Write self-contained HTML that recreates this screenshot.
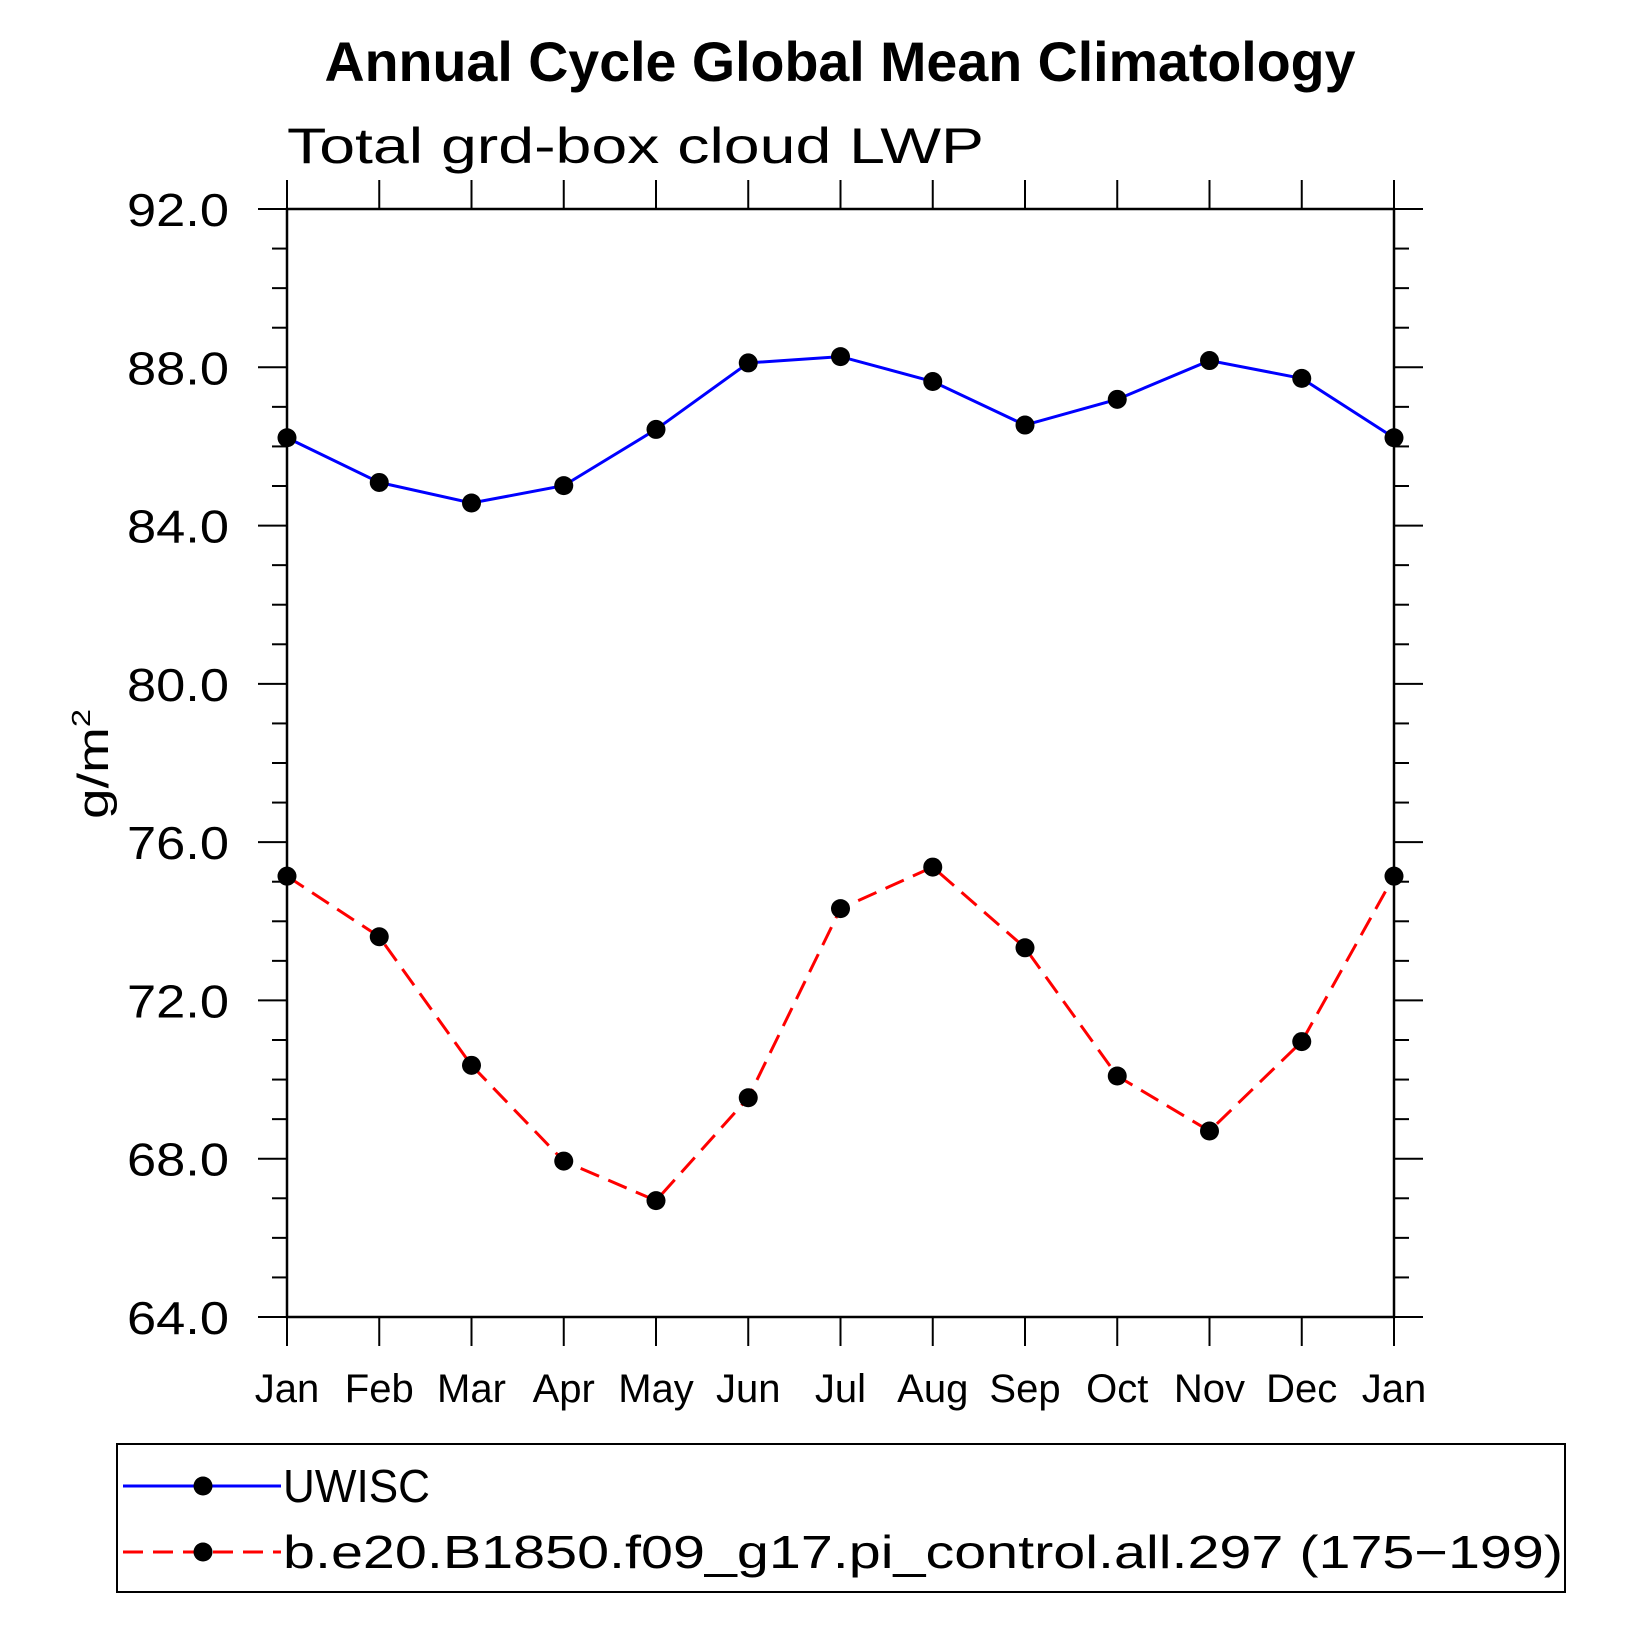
<!DOCTYPE html>
<html><head><meta charset="utf-8"><style>
html,body{margin:0;padding:0;background:#fff;}
svg{display:block;font-family:"Liberation Sans",sans-serif;}
</style></head><body>
<svg id="chart" width="1630" height="1630" viewBox="0 0 1630 1630" xmlns="http://www.w3.org/2000/svg">
<text x="840" y="81" text-anchor="middle" font-size="56" font-weight="bold" textLength="1031" lengthAdjust="spacingAndGlyphs">Annual Cycle Global Mean Climatology</text>
<text x="287" y="163" font-size="50" textLength="697" lengthAdjust="spacingAndGlyphs">Total grd-box cloud LWP</text>
<text transform="translate(108,764) rotate(-90)" text-anchor="middle" font-size="44" textLength="110" lengthAdjust="spacingAndGlyphs">g/m<tspan font-size="26" dy="-18">2</tspan></text>
<g id="axes"></g>
<g id="series"></g>
<g>
<rect x="117" y="1444" width="1448" height="148" fill="none" stroke="#000" stroke-width="2"/>
<g>
<line x1="123" y1="1486" x2="281" y2="1486" stroke="#0000ff" stroke-width="3"/>
<circle cx="203" cy="1486" r="9.5" fill="#000"/>
<text x="283" y="1502" font-size="46" textLength="147" lengthAdjust="spacingAndGlyphs">UWISC</text>
</g>
<g>
<line x1="123" y1="1552" x2="281" y2="1552" stroke="#ff0000" stroke-width="3" stroke-dasharray="20,10"/>
<circle cx="203" cy="1552" r="9.5" fill="#000"/>
<text x="283" y="1568" font-size="46" textLength="1280" lengthAdjust="spacingAndGlyphs">b.e20.B1850.f09_g17.pi_control.all.297 (175−199)</text>
</g>
</g>
</svg>
<script>
const months = ["Jan","Feb","Mar","Apr","May","Jun","Jul","Aug","Sep","Oct","Nov","Dec","Jan"];
const uwisc = [86.22,85.09,84.57,85.01,86.43,88.11,88.27,87.64,86.54,87.19,88.17,87.72,86.22];
const model = [75.14,73.61,70.36,67.94,66.94,69.54,74.32,75.37,73.33,70.09,68.70,70.96,75.14];
const yTicks = [64,68,72,76,80,84,88,92];
const yTickLabels = ["64.0","68.0","72.0","76.0","80.0","84.0","88.0","92.0"];

const NS="http://www.w3.org/2000/svg";
const L=287,R=1394,T=209,B=1317,Y0=64,Y1=92;
function xs(i){return L+(R-L)*i/(months.length-1);}
function ys(v){return B-(v-Y0)/(Y1-Y0)*(B-T);}
function mk(tag,attrs,parent){const e=document.createElementNS(NS,tag);for(const k in attrs)e.setAttribute(k,attrs[k]);parent.appendChild(e);return e;}
const ax=document.getElementById('axes');
const frame=mk('rect',{x:L,y:T,width:R-L,height:B-T,fill:'none',stroke:'#000','stroke-width':2.5},ax);


for(let v=Y0;v<=Y1;v+=1){
  const y=ys(v);const major=(v-Y0)%4===0;const len=major?29:15;
  const t1=mk('line',{x1:L-len,y1:y,x2:L,y2:y,stroke:'#000','stroke-width':2},ax);
  
  
  const t2=mk('line',{x1:R,y1:y,x2:R+len,y2:y,stroke:'#000','stroke-width':2},ax);
  
  
}
yTicks.forEach((v,i)=>{
  const t=mk('text',{x:229,y:ys(v)+17,'text-anchor':'end','font-size':46,textLength:102,lengthAdjust:'spacingAndGlyphs'},ax);
  t.textContent=yTickLabels[i];
  
  
});
months.forEach((m,i)=>{
  const x=xs(i);
  const a=mk('line',{x1:x,y1:B,x2:x,y2:B+29,stroke:'#000','stroke-width':2},ax);
  
  
  const b=mk('line',{x1:x,y1:T-29,x2:x,y2:T,stroke:'#000','stroke-width':2},ax);
  
  
  const t=mk('text',{x:x,y:1402,'text-anchor':'middle','font-size':40},ax);
  t.textContent=m;
  
  
});
const sg=document.getElementById('series');
function drawSeries(vals,color,dash,name){
  const pts=vals.map((v,i)=>xs(i)+','+ys(v)).join(' ');
  const pl=mk('polyline',{points:pts,fill:'none',stroke:color,'stroke-width':3,'stroke-dasharray':dash},sg);
  
  
  vals.forEach((v,i)=>{
    const c=mk('circle',{cx:xs(i),cy:ys(v),r:9.5,fill:'#000'},sg);
    
    
  });
}
drawSeries(uwisc,'#0000ff','none','uwisc');
drawSeries(model,'#ff0000','20,10','model');
</script>
</body></html>
